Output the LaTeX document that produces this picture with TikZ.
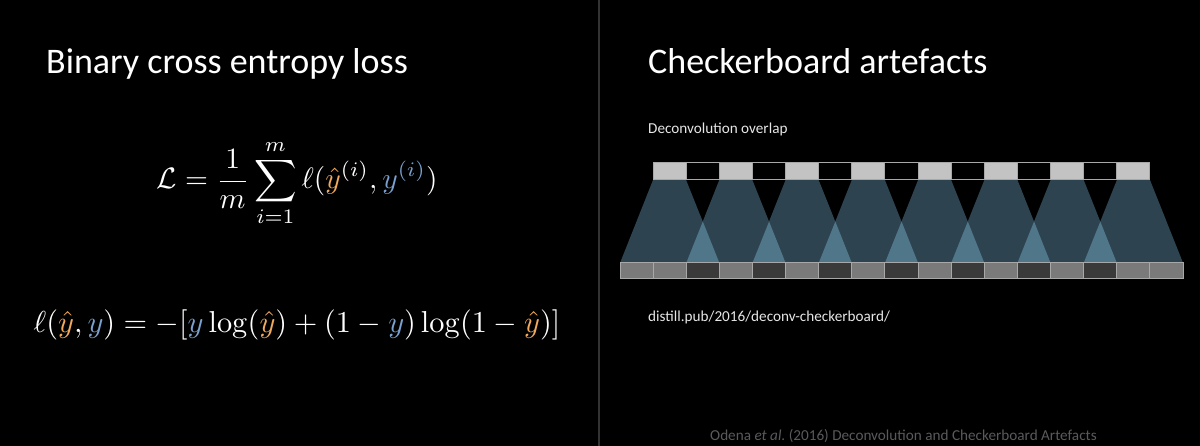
\documentclass[tikz,border=0pt]{standalone}
\usepackage[no-math]{fontspec}
\setmainfont{Carlito}
\definecolor{bg}{HTML}{000000}
\definecolor{divider}{HTML}{333333}
\definecolor{topLight}{HTML}{C3C3C3}
\definecolor{cellEdge}{HTML}{A8A8A8}
\definecolor{botGray}{HTML}{7A7A7A}
\definecolor{botDark}{HTML}{3A3A3A}
\definecolor{trap}{HTML}{2E4350}
\definecolor{overlapc}{HTML}{4F7689}
\definecolor{yhatc}{HTML}{F2A95C}
\definecolor{yc}{HTML}{7BA1CF}
\definecolor{foot}{HTML}{5A5A5A}
\definecolor{smalltxt}{HTML}{E6E6E6}
\tikzset{
  titletxt/.style={text=white,anchor=base west,inner sep=0pt,font=\fontsize{36}{42}\selectfont},
  smalllabel/.style={text=smalltxt,anchor=base west,inner sep=0pt,font=\fontsize{15.2}{18}\selectfont},
  mathtxt/.style={text=white,inner sep=0pt},
  topcell/.style={draw=cellEdge,line width=1pt},
  botcell/.style={draw=cellEdge,line width=1pt},
}
\newcommand{\yh}{{\color{yhatc}\hat{y}}}
\newcommand{\yy}{{\color{yc}y}}
\begin{document}
\begin{tikzpicture}[x=1pt,y=-1pt]
\fill[bg] (0,0) rectangle (1200,446);
\useasboundingbox (0,0) rectangle (1200,446);
\draw[divider,line width=1.2pt] (599,0) -- (599,446);
% titles
\node[titletxt] (t1) at (46,74) {Binary cross entropy loss};
\node[titletxt] (t2) at (648,74) {Checkerboard artefacts};
% equations
\node[mathtxt] (eq1) at (297,183) {\scalebox{2.95}{$\displaystyle \mathcal{L} = \frac{1}{m}\sum_{i=1}^{m}\ell(\yh^{(i)},{\color{yc}y^{(i)}})$}};
\node[mathtxt] (eq2) at (297,325) {\scalebox{3.03}{$\ell(\yh,\yy) = -[\yy\log(\yh) + (1-\yy)\log(1-\yh)]$}};
% labels
\node[smalllabel] (lab1) at (648,134) {Deconvolution overlap};
\node[smalllabel] (lab2) at (648,322) {distill.pub/2016/deconv-checkerboard/};
\node[smalllabel,text=foot] (foot) at (710,440) {Odena \textit{et al.}~(2016) Deconvolution and Checkerboard Artefacts};
% trapezoids
\foreach \j in {0,...,7}{
  \fill[trap] ({653+66.27*\j},180) -- ({686.1+66.27*\j},180) -- ({719.4+66.24*\j},263) -- ({620+66.24*\j},263) -- cycle;
}
\foreach \j in {0,...,6}{
  \fill[overlapc] ({686.2+66.24*\j},263) -- ({702.8+66.25*\j},221.5) -- ({719.4+66.24*\j},263) -- cycle;
}
% top row
\foreach \k in {0,...,14}{
  \pgfmathsetmacro{\xa}{653+33.13*\k}
  \pgfmathsetmacro{\xb}{653+33.13*(\k+1)}
  \ifodd\k
    \draw[topcell,fill=black] (\xa,163) rectangle (\xb,180);
  \else
    \draw[topcell,fill=topLight] (\xa,163) rectangle (\xb,180);
  \fi
}
% bottom row
\foreach \k in {0,...,16}{
  \pgfmathsetmacro{\xa}{620+33.12*\k}
  \pgfmathsetmacro{\xb}{620+33.12*(\k+1)}
  \pgfmathtruncatemacro{\isdark}{(\k>1)&&(\k<15)&&(mod(\k,2)==0)}
  \ifnum\isdark=1
    \draw[botcell,fill=botDark] (\xa,263) rectangle (\xb,279);
  \else
    \draw[botcell,fill=botGray] (\xa,263) rectangle (\xb,279);
  \fi
}
\end{tikzpicture}
\end{document}
